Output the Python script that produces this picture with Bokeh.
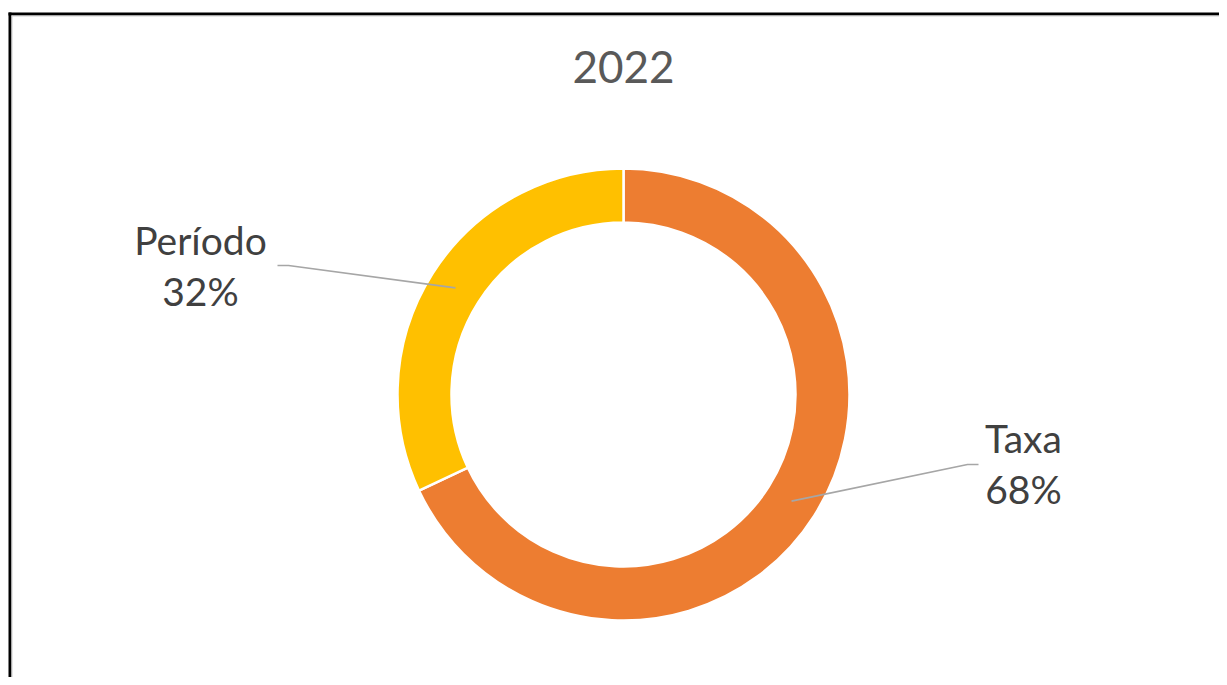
import numpy as np
from bokeh.plotting import figure
from bokeh.models import ColumnDataSource
from bokeh.embed import file_html
from bokeh.resources import INLINE
from bokeh.core.properties import value

# ---- data ----
title_text = "2022"
categories = ["Taxa", "Período"]
values = [68, 32]
colors = ["#ED7D31", "#FFC000"]

# ---- layout (pixel-based data space) ----
W, H = 1219, 677
OX, OY = 0, 677  # reference px -> canvas: x = ix - OX, y = OY - iy

def cx_(ix):
    return ix - OX

def cy_(iy):
    return OY - iy

CX, CY = cx_(623), cy_(394)
R_OUT, R_IN = 226, 172
TITLE_FS, LABEL_FS = 44, 39
BASE_FIX = 0.4  # renderer baseline correction (fraction of font size)

p = figure(width=W, height=H, x_range=(0, W), y_range=(0, H),
           output_backend="svg", toolbar_location=None, min_border=0)
p.axis.visible = False
p.grid.visible = False
p.outline_line_color = None
p.background_fill_color = "white"
p.border_fill_color = "white"

# chart area border (black with light-gray inner edge)
p.line(x=[cx_(9.5), cx_(9.5)], y=[cy_(12), cy_(720)], line_color="black", line_width=3)
p.line(x=[cx_(8), cx_(1260)], y=[cy_(13.5), cy_(13.5)], line_color="black", line_width=3)
p.line(x=[cx_(11.5), cx_(11.5)], y=[cy_(15), cy_(720)], line_color="#D0D0D0", line_width=1)
p.line(x=[cx_(11), cx_(1260)], y=[cy_(15.5), cy_(15.5)], line_color="#D0D0D0", line_width=1)

# donut
total = float(sum(values))
fracs = [v / total for v in values]
starts, ends, mids = [], [], []
cum = 0.0
for f in fracs:
    s = np.pi / 2 - cum * 2 * np.pi
    e = s - f * 2 * np.pi
    starts.append(s)
    ends.append(e)
    mids.append((s + e) / 2)
    cum += f

src = ColumnDataSource(dict(start=starts, end=ends, color=colors,
                            x=[CX] * len(values), y=[CY] * len(values)))
p.annular_wedge(x="x", y="y", inner_radius=R_IN, outer_radius=R_OUT,
                start_angle="start", end_angle="end", direction="clock",
                fill_color="color", line_color="white", line_width=2.5, source=src)

# title
p.text(x=[cx_(623)], y=[cy_(84 - BASE_FIX * TITLE_FS)], text=[title_text],
       text_font=value("Lato"), text_font_size=f"{TITLE_FS}px", text_color="#595959",
       text_align="center", text_baseline="alphabetic")

# data labels with leader lines
label_pos = {  # label centre x, baseline of first line (reference px), elbow, end of leader
    "Taxa": (1023, 453, (967, 464), (978, 464)),
    "Período": (200, 255, (288, 265), (277, 265)),
}
r_mid = (R_IN + R_OUT) / 2
for cat, v, m in zip(categories, values, mids):
    lx, lb, elbow, tail = label_pos[cat]
    sx = CX + r_mid * np.cos(m)
    sy = CY + r_mid * np.sin(m)
    p.line(x=[sx, cx_(elbow[0]), cx_(tail[0])], y=[sy, cy_(elbow[1]), cy_(tail[1])],
           line_color="#A6A6A6", line_width=1.6)
    b = lb - BASE_FIX * LABEL_FS
    p.text(x=[cx_(lx), cx_(lx)], y=[cy_(b), cy_(b + 51)],
           text=[cat, f"{round(v / total * 100)}%"], text_font=value("Lato"),
           text_font_size=f"{LABEL_FS}px", text_color="#404040", text_align="center",
           text_baseline="alphabetic")

open("out.html", "w").write(file_html(p, INLINE))
